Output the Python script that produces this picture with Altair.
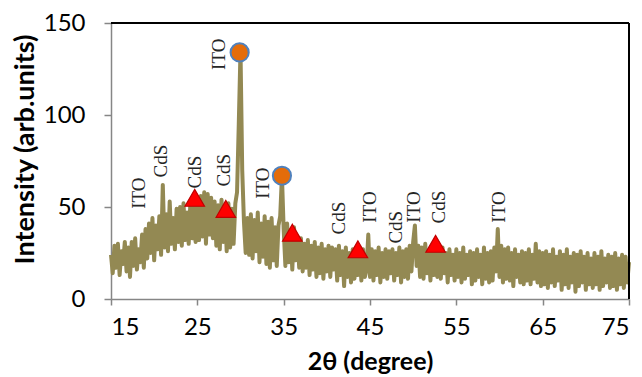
import altair as alt
import pandas as pd

# ---- XRD pattern: 2theta grid 15..75 step 0.2, intensities
theta_start = 15.0
theta_step = 0.2
intensity = [
    24, 14, 29, 17, 30, 13, 26, 19, 31, 15,   # 15.0-16.8
    28, 12, 31, 18, 33, 16, 27, 20, 35, 17,   # 17.0-18.8
    38, 22, 41, 25, 44, 21, 40, 27, 45, 24,   # 19.0-20.8
    62, 28, 46, 26, 53, 30, 44, 27, 49, 31,   # 21.0-22.8
    50, 29, 52, 32, 47, 30, 53, 33, 51, 31,   # 23.0-24.8
    54, 32, 56, 34, 58, 30, 57, 35, 55, 33,   # 25.0-26.8
    53, 29, 51, 27, 54, 31, 50, 26, 52, 28,   # 27.0-28.8
    49, 30, 52, 58, 95, 135, 70, 42, 25, 44,  # 29.0-30.8
    24, 46, 22, 43, 26, 47, 20, 41, 23, 45,   # 31.0-32.8
    19, 42, 17, 44, 21, 39, 18, 40, 45, 67,   # 33.0-34.8
    38, 18, 41, 20, 37, 16, 39, 21, 34, 17,   # 35.0-36.8
    33, 15, 30, 17, 32, 13, 29, 16, 31, 12,   # 37.0-38.8
    28, 14, 30, 11, 27, 15, 29, 12, 28, 16,   # 39.0-40.8
    27, 10, 29, 13, 26, 7, 28, 12, 25, 9,     # 41.0-42.8
    27, 11, 28, 13, 26, 10, 27, 12, 16, 35,   # 43.0-44.8
    12, 27, 10, 26, 13, 28, 9, 25, 12, 27,    # 45.0-46.8
    11, 26, 14, 27, 10, 25, 13, 28, 9, 26,    # 47.0-48.8
    12, 27, 11, 29, 15, 31, 40, 18, 29, 12,   # 49.0-50.8
    28, 11, 30, 14, 26, 10, 29, 13, 27, 12,   # 51.0-52.8
    26, 11, 28, 14, 25, 9, 27, 13, 24, 10,    # 53.0-54.8
    27, 12, 25, 9, 28, 11, 24, 13, 26, 8,     # 55.0-56.8
    25, 10, 27, 12, 24, 8, 28, 11, 25, 9,     # 57.0-58.8
    26, 10, 28, 15, 38, 12, 29, 9, 27, 11,    # 59.0-60.8
    28, 10, 25, 7, 27, 12, 24, 9, 26, 8,      # 61.0-62.8
    25, 10, 27, 8, 24, 11, 30, 9, 26, 7,      # 63.0-64.8
    25, 8, 26, 6, 24, 9, 27, 7, 23, 10,       # 65.0-66.8
    26, 5, 24, 8, 27, 6, 23, 9, 25, 4,        # 67.0-68.8
    24, 7, 26, 9, 23, 5, 25, 8, 22, 6,        # 69.0-70.8
    25, 8, 23, 5, 26, 7, 22, 9, 24, 6,        # 71.0-72.8
    23, 7, 25, 5, 22, 8, 24, 6, 23, 9,        # 73.0-74.8
    20,                                       # 75.0
]
two_theta = [round(theta_start + theta_step * i, 2) for i in range(len(intensity))]

# ---- phase markers
cds_x = [24.7, 28.3, 36.0, 43.6, 52.6]
cds_y = [55, 49, 36, 27, 30]
ito_x = [29.9, 34.8]
ito_y = [134, 67]

# ---- peak labels
label_text = ["ITO", "CdS", "CdS", "CdS", "ITO", "ITO", "CdS", "ITO", "CdS", "ITO", "CdS", "ITO"]
label_x = [18.2, 20.8, 24.7, 28.1, 27.5, 32.6, 41.4, 45.0, 48.0, 50.1, 53.0, 59.9]
label_y = [57.5, 75, 69, 70, 133, 63, 44, 50, 39, 50, 50, 50]

x_ticks = [15, 25, 35, 45, 55, 65, 75]
y_ticks = [0, 50, 100, 150]

W, H = 518, 276

xs = alt.Scale(domain=[15, 75], nice=False, zero=False)
ys = alt.Scale(domain=[0, 150], nice=False)

df = pd.DataFrame({"t": two_theta, "i": intensity})
line = alt.Chart(df).mark_line(color="#938953", strokeWidth=4, strokeJoin="round").encode(
    x=alt.X("t:Q", scale=xs, axis=alt.Axis(
        values=x_ticks, title="2θ (degree)", grid=False,
        domainColor="#868686", domainWidth=1.5, tickColor="#868686", tickWidth=1.5, tickSize=6,
        labelFont="Lato", labelFontSize=24, labelColor="#000", labelPadding=10,
        titleFont="Lato", titleFontSize=25, titleFontWeight="bold", titleColor="#000",
        titleY=70, titleBaseline="alphabetic")),
    y=alt.Y("i:Q", scale=ys, axis=alt.Axis(
        values=y_ticks, title="Intensity (arb.units)", grid=False,
        domainColor="#868686", domainWidth=1.5, tickColor="#868686", tickWidth=1.5, tickSize=7,
        labelFont="Lato", labelFontSize=24, labelColor="#000", labelPadding=19,
        titleFont="Lato", titleFontSize=27, titleFontWeight="bold", titleColor="#000",
        titleX=-86, titleY=126, titleAngle=270, titleAlign="center", titleBaseline="middle")),
    order=alt.Order("t:Q"),
)

tri = alt.Chart(pd.DataFrame({"x": cds_x, "y": cds_y})).mark_point(
    shape="triangle-up", filled=True, size=380, fill="#FF0000", stroke="#C00000",
    strokeWidth=1.2, opacity=1).encode(x=alt.X("x:Q", scale=xs), y=alt.Y("y:Q", scale=ys))

circ = alt.Chart(pd.DataFrame({"x": ito_x, "y": ito_y})).mark_point(
    shape="circle", filled=True, size=330, fill="#E46C0A", stroke="#4F81BD",
    strokeWidth=2, opacity=1).encode(x=alt.X("x:Q", scale=xs), y=alt.Y("y:Q", scale=ys))

labels = alt.Chart(pd.DataFrame({"x": label_x, "y": label_y, "s": label_text})).mark_text(
    font="Liberation Serif", fontSize=19, angle=270, align="center", baseline="middle",
    color="#262626").encode(x=alt.X("x:Q", scale=xs), y=alt.Y("y:Q", scale=ys), text="s:N")

top_border = alt.Chart().mark_rule(color="#000", strokeWidth=2).encode(
    x=alt.value(0), x2=alt.value(W), y=alt.value(0))
right_border = alt.Chart().mark_rule(color="#000", strokeWidth=2).encode(
    x=alt.value(W), y=alt.value(0), y2=alt.value(H))

chart = alt.layer(line, labels, tri, circ, top_border, right_border).properties(
    width=W, height=H,
    autosize=alt.AutoSizeParams(type="none"),
    padding={"left": 111, "top": 23, "right": 13, "bottom": 78},
    background="white",
).configure_view(stroke=None)

chart.save("out.html", embed_options={"renderer": "svg", "actions": False})
